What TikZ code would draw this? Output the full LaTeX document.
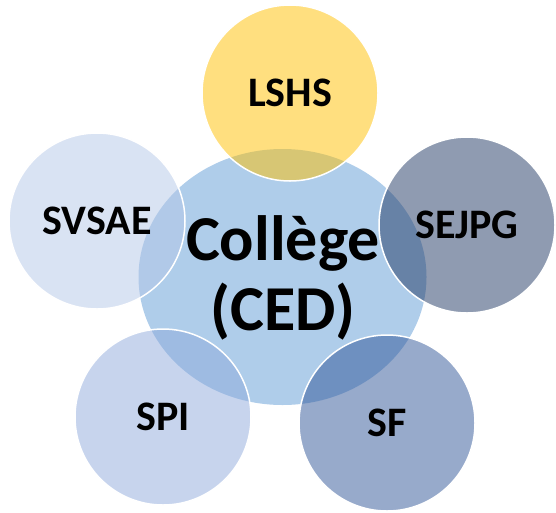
\documentclass[tikz,border=0pt]{standalone}
\usepackage{fontspec}
\setmainfont{Carlito}
\usetikzlibrary{shapes.geometric}
\definecolor{cedblue}{HTML}{AFCDEA}
\definecolor{lshscol}{HTML}{FFC000}
\definecolor{sejpgcol}{HTML}{203864}
\definecolor{sfcol}{HTML}{2F5597}
\definecolor{spicol}{HTML}{8FAADC}
\definecolor{svsaecol}{HTML}{B4C7E7}
\tikzset{
  petal/.style={circle, minimum size=176pt, inner sep=0pt, draw=white, line width=1.5pt,
    fill opacity=0.5, draw opacity=1, text opacity=1, text=black,
    font=\fontsize{42}{50}\selectfont\bfseries},
  bigtext/.style={anchor=base, inner sep=0pt, text=black, font=\fontsize{64}{70}\selectfont\bfseries}
}
\begin{document}
\begin{tikzpicture}[x=1pt,y=-1pt]
\useasboundingbox (0,0) rectangle (556,512);
\node[ellipse, minimum width=288pt, minimum height=256pt, inner sep=0pt, fill=cedblue] (ced) at (282.5,277) {};
\node[petal, fill=lshscol] (lshs) at (290,93) {LSHS};
\node[petal, fill=sejpgcol] (sejpg) at (467,225) {SEJPG};
\node[petal, fill=sfcol] (sf) at (387,423) {SF};
\node[petal, fill=spicol] (spi) at (163,417) {SPI};
\node[petal, fill=svsaecol] (svsae) at (97,221) {SVSAE};
\node[bigtext] (t1) at (283,260) {Collège};
\node[bigtext] (t2) at (283,330) {(CED)};
\end{tikzpicture}
\end{document}
